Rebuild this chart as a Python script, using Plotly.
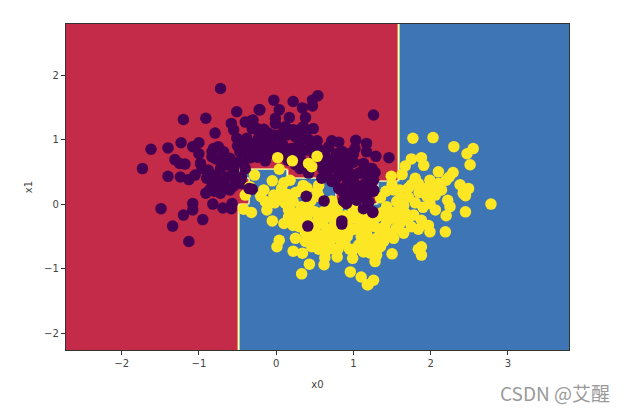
import numpy as np
import plotly.graph_objects as go

x_ticks = [-2, -1, 0, 1, 2, 3]
y_ticks = [-2, -1, 0, 1, 2]
x_range = [-2.72, 3.79]
y_range = [-2.26, 2.79]

# decision regions of class 0 (red): x0, x1, y0, y1
red_regions = [
    (-2.72, -0.48, -2.26, 2.79),
    (-0.48, 1.58, 0.54, 2.79),
    (0.15, 0.78, 0.42, 0.54),
    (0.78, 1.30, 0.00, 0.54),
    (1.30, 1.58, 0.39, 0.54),
    (-0.48, -0.36, 0.02, 0.36),
]

purple_under = [
(-0.72,1.79),(-0.51,1.43),(-1.20,1.31),(-0.91,1.33),(-0.58,1.25),(-0.79,1.10),(-0.22,1.46),(-1.62,0.85),
(-1.40,0.87),(-1.23,0.95),(-1.0,0.95),(-1.08,0.89),(-1.73,0.55),(-1.31,0.69),(-1.18,0.62),(-1.25,0.63),
(-1.40,0.43),(-1.24,0.42),(-1.13,0.38),(-1.0,0.78),(-0.98,0.63),(-0.96,0.55),(-1.05,0.45),(-0.88,0.53),
(-0.83,0.81),(-0.81,0.86),(-0.75,0.89),(-0.83,0.73),(-0.72,0.55),(-0.85,0.40),(-0.76,0.37),(-0.83,0.27),
(-0.86,0.22),(-0.91,0.17),(-0.72,0.17),(-0.60,0.22),(-0.82,0.0),(-0.69,-0.06),(-0.58,-0.07),(-0.57,0.01),
(-1.08,0.01),(-1.08,-0.09),(-1.20,-0.17),(-1.49,-0.07),(-0.95,-0.24),(-1.34,-0.34),(-1.13,-0.58),
(-0.55,1.15),(-0.51,1.02),(-0.40,1.27),(-0.31,1.30),(-0.38,1.02),(-0.25,1.17),(-0.23,1.02),(-0.68,0.81),
(-0.60,0.71),(-0.47,0.81),(-0.31,0.86),(-0.23,0.73),(-0.55,0.53),(-0.64,0.42),(-0.51,0.35),(-0.44,0.78),
(-0.66,0.63),(-0.78,0.45),(-0.03,1.61),(0.22,1.59),(0.54,1.68),(0.47,1.61),(0.47,1.52),(0.34,1.49),
(-0.21,1.46),(0.04,1.46),(-0.01,1.33),(0.17,1.34),(0.38,1.34),(1.26,1.38),(-0.30,1.30),(0.12,1.20),
(-0.01,1.25),(0.35,1.20),(0.48,1.17),(-0.16,1.16),(-0.31,1.17),(-0.17,1.04),(-0.01,1.07),(0.14,1.07),
(0.25,1.04),(0.38,1.09),(0.53,0.98),(0.72,0.98),(0.81,0.96),(1.03,0.99),(1.17,0.94),(1.29,0.74),
(1.46,0.72),(1.17,0.81),(1.02,0.86),(0.94,0.78),(0.68,0.89),(0.63,0.78),(0.70,0.68),(0.40,0.84),
(-0.27,0.86),(-0.14,0.84),(-0.06,0.94),(0.09,0.91),(0.20,0.86),(-0.25,0.73),(-0.14,0.67),(0.22,0.73),
(0.25,0.61),(0.31,0.55),(0.42,0.48),(0.83,0.65),(0.91,0.71),(1.0,0.78),(1.13,0.63),
(-0.78,0.70),(-0.70,0.72),(-0.60,0.60),(-0.50,0.65),
(-0.42,0.65),(-0.40,0.72),(-0.33,0.72),(-0.68,0.32),(-0.55,0.42),(-0.80,0.20),(-0.75,0.28),
(-0.65,0.25),(-0.55,0.28),(-0.45,0.42),(-0.45,0.32),(-0.90,0.40),(-0.45,0.95),(-0.50,0.90),
(-0.42,0.88),(-0.35,0.95),(-0.20,0.95),(-0.10,1.00),(-0.10,1.10),(0.05,1.02),(0.10,1.15),(0.22,1.15),
(0.30,1.15),(0.30,0.95),(0.42,1.00),(0.45,0.92),(0.55,0.85),(0.50,0.75),(0.32,0.80),(0.10,0.80),
(0.0,0.85),(-0.05,0.78),(0.15,0.68),(0.32,0.68),(0.60,0.65),(0.68,0.55),(0.78,0.55),(0.78,0.78),
(0.85,0.82),(0.60,0.55),(0.35,0.62),(0.88,0.60),
]

yellow_points = [
(0.02,0.72),(0.21,0.67),(0.53,0.74),(0.04,0.54),(0.42,0.63),(0.46,0.58),(-0.28,0.45),(-0.05,0.36),
(0.18,0.37),(0.35,0.29),(0.55,0.29),(0.53,0.19),(-0.16,0.22),(-0.34,0.27),(-0.40,0.14),(0.07,0.24),
(-0.03,0.14),(-0.14,0.04),(-0.12,-0.09),(-0.42,-0.08),(-0.32,-0.13),(-0.05,-0.26),(0.12,0.01),(0.22,0.04),
(0.33,-0.04),(0.44,-0.09),(0.10,-0.30),(0.22,-0.33),(0.25,-0.53),(0.04,-0.56),(0.01,-0.66),(0.22,-0.73),
(0.34,-0.76),(0.43,-0.93),(0.33,-1.08),(0.62,-0.94),(0.63,-0.83),(0.46,-0.66),(0.79,-0.82),(0.96,-1.05),
(1.10,-1.13),(1.18,-1.25),(0.99,-0.84),(0.31,-0.25),(0.38,-0.45),(0.53,-0.27),(0.57,-0.48),(0.74,-0.35),
(0.70,-0.56),(0.83,-0.56),(0.89,-0.61),(0.79,-0.09),(1.0,-0.08),(0.91,-0.30),(1.06,-0.22),(1.09,-0.63),
(1.17,-0.45),(0.61,-0.12),(0.66,-0.71),(0.74,-0.69),(0.38,-0.58),(0.27,-0.20),(0.16,-0.09),(0.98,-0.40),
(0.61,-0.61),(0.50,-0.38),(0.66,-0.40),(1.77,1.02),(2.03,1.03),(2.30,0.89),(2.55,0.86),(2.47,0.78),
(2.51,0.61),(1.75,0.70),(1.88,0.72),(1.91,0.60),(1.67,0.59),(1.63,0.46),(1.49,0.43),(2.10,0.50),
(2.29,0.49),(2.24,0.42),(2.20,0.37),(2.38,0.30),(2.49,0.24),(2.42,0.17),(2.45,0.13),(2.78,0.0),
(2.45,-0.12),(2.19,-0.43),(2.20,-0.18),(2.25,-0.04),(2.22,0.06),(2.14,0.22),(1.99,0.37),(1.84,0.32),
(1.71,0.25),(1.60,0.22),(1.52,0.22),(1.99,0.27),(1.93,0.24),(2.06,0.14),(1.99,0.01),(2.06,-0.09),
(1.71,0.11),(1.56,0.04),(1.35,0.10),(1.43,-0.04),(1.37,-0.13),(1.65,-0.02),(1.50,-0.22),(1.67,-0.14),
(1.78,-0.17),(1.88,-0.25),(1.99,-0.43),(1.97,-0.33),(1.84,-0.39),(1.60,-0.30),(1.65,-0.45),(1.52,-0.53),
(1.39,-0.58),(1.28,-0.35),(1.11,-0.20),(1.02,-0.38),(1.15,-0.45),(1.30,-0.53),(1.45,-0.45),(1.07,-0.63),
(1.22,-0.76),(1.35,-0.66),(1.50,-0.77),(1.84,-0.70),(1.88,-0.66),(1.88,-0.79),(1.28,-0.89),(1.30,-0.79),
(1.26,-1.18),(1.19,-1.25),(1.13,-0.74),(1.43,-0.27),
(0.20,-0.12),(0.30,-0.12),(0.40,-0.18),(0.50,-0.12),(0.58,-0.20),(0.68,-0.20),(0.74,-0.15),(0.16,-0.20),
(0.30,-0.35),(0.42,-0.30),(0.46,-0.45),(0.55,-0.60),(0.50,-0.55),(0.63,-0.50),(0.75,-0.48),(0.85,-0.42),
(0.92,-0.50),(0.80,-0.25),(0.90,-0.18),(0.97,-0.22),(1.10,-0.35),(1.20,-0.30),(1.22,-0.55),(1.10,-0.50),
(1.35,-0.45),(1.40,-0.35),(1.30,-0.20),(1.20,-0.18),(1.55,-0.38),(1.45,-0.10),(1.55,-0.12),(1.70,-0.25),
(1.75,-0.35),(1.80,0.02),(1.75,0.30),(1.85,0.18),(1.95,0.12),(1.60,0.08),(1.50,0.30),(1.42,0.20),
(1.90,-0.05),(1.58,-0.22),(2.05,0.28),(2.10,0.32),(1.80,0.40),(0.15,0.15),(0.25,0.18),(0.40,0.25),
(0.10,0.33),(0.30,0.20),(0.45,0.05),(0.55,0.12),(0.05,0.08),(-0.02,0.02),(-0.20,0.12),(0.72,0.05),
(0.80,-0.02),(1.15,-0.60),(1.00,-0.70),(0.95,-0.70),(1.25,-0.65),(0.80,-0.70),(0.55,-0.70),(0.60,-0.30),
(0.70,-0.10),
]

purple_over = [
(0.41,-0.34),(0.85,-0.26),(0.85,-0.31),(0.62,0.05),(0.39,0.12),(-0.40,0.55),(-0.35,0.24),(1.13,-0.07),
(1.25,-0.13),(0.59,0.40),(0.72,0.35),(1.22,0.55),(1.28,0.49),(1.07,0.48),(0.94,0.50),(1.15,0.32),
(1.26,0.20),(1.09,0.24),(0.91,0.29),(0.81,0.24),(0.96,0.14),(1.15,0.09),(0.91,0.01),(1.04,0.06),
(1.25,-0.12),(1.17,-0.04),(1.0,0.65),(1.24,0.55),(1.09,0.48),(1.26,0.37),(1.04,0.29),(1.17,0.27),
(1.26,0.22),(0.98,0.11),(1.09,0.11),(1.17,0.11),(-0.31,0.23),
(0.85,0.45),(0.78,0.40),(0.66,0.45),(0.92,0.40),(1.0,0.42),(1.0,0.35),(1.2,0.42),(0.87,0.18),
(0.95,0.23),(1.05,0.18),(1.20,0.03),(0.87,0.05),
]

xs = np.arange(x_range[0], x_range[1] + 0.045, 0.045)
ys = np.arange(y_range[0], y_range[1] + 0.045, 0.045)
xx, yy = np.meshgrid(xs, ys)
zz = np.ones_like(xx)
for x0, x1, y0, y1 in red_regions:
    zz[(xx >= x0) & (xx < x1) & (yy >= y0) & (yy <= y1 + 0.045)] = 0

spectral = [[0, "#C32B48"], [0.25, "#F3804F"], [0.5, "#FFFCC0"], [0.75, "#9FD8A4"], [1, "#3E75B4"]]
PURPLE = "#440154"
YELLOW = "#FDE725"

fig = go.Figure()
fig.add_trace(go.Heatmap(x=xs, y=ys, z=zz, colorscale=spectral, zmin=0, zmax=1,
                         zsmooth="best", showscale=False, hoverinfo="skip"))
for pts, col in [(purple_under, PURPLE), (yellow_points, YELLOW), (purple_over, PURPLE)]:
    fig.add_trace(go.Scatter(x=[p[0] for p in pts], y=[p[1] for p in pts], mode="markers",
                             marker=dict(color=col, size=11.5, line=dict(width=0)), showlegend=False))

axis_style = dict(showgrid=False, zeroline=False, ticks="outside", ticklen=4, tickwidth=1,
                  tickcolor="#333333", showline=True, mirror=True, linecolor="#333333", linewidth=1.3,
                  tickfont=dict(family="DejaVu Sans", size=10, color="#444444"))
fig.update_xaxes(range=x_range, tickvals=x_ticks, ticktext=["\u2212" + str(-t) if t < 0 else str(t) for t in x_ticks],
                 title=dict(text="x0", standoff=12, font=dict(family="DejaVu Sans", size=10, color="#444444")),
                 **axis_style)
fig.update_yaxes(range=y_range, tickvals=y_ticks, ticktext=["\u2212" + str(-t) if t < 0 else str(t) for t in y_ticks],
                 title=dict(text="x1", standoff=9, font=dict(family="DejaVu Sans", size=10, color="#444444")),
                 **axis_style)
fig.add_annotation(text="CSDN @艾醒", xref="paper", yref="paper", x=1.0855, y=-0.129, xanchor="right",
                   yanchor="middle", showarrow=False,
                   font=dict(family="Noto Sans CJK SC", size=19, color="#9a9a9a"))
fig.add_shape(type="path", xref="paper", yref="paper", path="M -0.125,1.074 L -0.125,1.06 L 1.11,1.06",
              line=dict(color="#dddddd", width=1))
fig.update_layout(width=616, height=402, margin=dict(l=58, r=55, t=16, b=60),
                  paper_bgcolor="white", plot_bgcolor="white", showlegend=False)
fig.write_html("out.html")
